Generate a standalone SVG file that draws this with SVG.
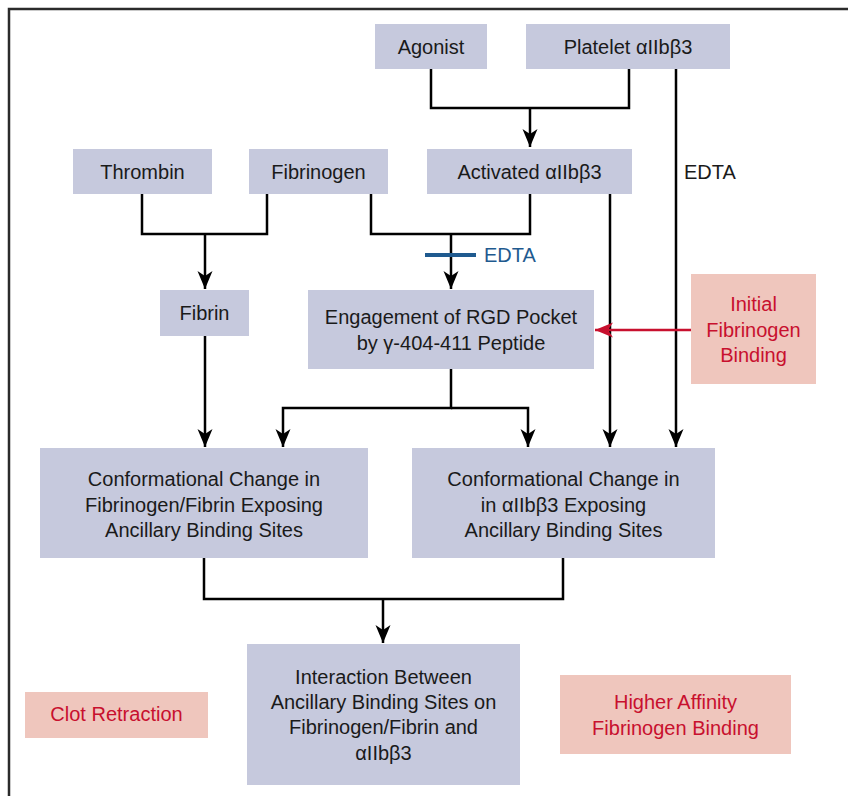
<svg xmlns="http://www.w3.org/2000/svg" width="848" height="796" viewBox="0 0 848 796">
<defs>
<style>
.box{fill:#c6c9dd}
.pink{fill:#efc6bd}
.t{font-family:"Liberation Sans",Arial,sans-serif;font-size:20px;fill:#1a1a1a;text-anchor:middle}
.r{fill:#c8102e}
.b{fill:#1f5a8f;text-anchor:start}
.k{text-anchor:start}
.ln{fill:none;stroke:#000;stroke-width:2.5}
</style>
<marker id="ah" markerUnits="userSpaceOnUse" markerWidth="20" markerHeight="18" viewBox="-19 -9 20 18" refX="0" refY="0" orient="auto">
<path d="M0,0 L-18,-7.5 L-13,0 L-18,7.5 Z" fill="#000"/>
</marker>
<marker id="ahr" markerUnits="userSpaceOnUse" markerWidth="20" markerHeight="18" viewBox="-19 -9 20 18" refX="0" refY="0" orient="auto">
<path d="M0,0 L-18,-7.5 L-13,0 L-18,7.5 Z" fill="#c8102e"/>
</marker>
</defs>
<rect width="848" height="796" fill="#fff"/>
<path d="M9,796 V9 H848" fill="none" stroke="#2b2b2b" stroke-width="2.5"/>

<g id="connectors">
<path class="ln" d="M431,69 V108 H629 V69"/>
<path class="ln" d="M530,108 V147" marker-end="url(#ah)"/>
<path class="ln" d="M676,69 V447" marker-end="url(#ah)"/>
<path class="ln" d="M142,194 V234 H267 V194"/>
<path class="ln" d="M205,234 V289" marker-end="url(#ah)"/>
<path class="ln" d="M371,194 V234 H530 V194"/>
<path class="ln" d="M451,234 V289" marker-end="url(#ah)"/>
<path class="ln" d="M610,194 V447" marker-end="url(#ah)"/>
<path class="ln" d="M205,336 V447" marker-end="url(#ah)"/>
<path class="ln" d="M451,369 V408 H283 V447" marker-end="url(#ah)"/>
<path class="ln" d="M451,408 H528 V447" marker-end="url(#ah)"/>
<path class="ln" d="M204,558 V599 H563 V558"/>
<path class="ln" d="M383,599 V643" marker-end="url(#ah)"/>
<path d="M691,330 H595" fill="none" stroke="#c8102e" stroke-width="2.5" marker-end="url(#ahr)"/>
<line x1="425" y1="255" x2="476" y2="255" stroke="#1f5a8f" stroke-width="4"/>
<text class="t b" x="484" y="262">EDTA</text>
<text class="t k" x="684" y="179">EDTA</text>
</g>

<g id="agonist"><rect class="box" x="375" y="24" width="112" height="45"/><text class="t" x="431" y="53.5">Agonist</text></g>
<g id="platelet"><rect class="box" x="526" y="24" width="204" height="45"/><text class="t" x="628" y="53.5">Platelet αIIbβ3</text></g>
<g id="thrombin"><rect class="box" x="73" y="149" width="139" height="45"/><text class="t" x="142.5" y="178.5">Thrombin</text></g>
<g id="fibrinogen"><rect class="box" x="249" y="149" width="139" height="45"/><text class="t" x="318.5" y="178.5">Fibrinogen</text></g>
<g id="activated"><rect class="box" x="427" y="149" width="205" height="45"/><text class="t" x="529.5" y="178.5">Activated αIIbβ3</text></g>
<g id="fibrin"><rect class="box" x="160" y="290" width="89" height="46"/><text class="t" x="204.5" y="320">Fibrin</text></g>
<g id="engagement"><rect class="box" x="308" y="290" width="286" height="79"/><text class="t" x="451" y="324">Engagement of RGD Pocket</text><text class="t" x="451" y="350">by γ-404-411 Peptide</text></g>
<g id="initial"><rect class="pink" x="691" y="274" width="125" height="110"/><text class="t r" x="753.5" y="311">Initial</text><text class="t r" x="753.5" y="337">Fibrinogen</text><text class="t r" x="753.5" y="362">Binding</text></g>
<g id="conf-fib"><rect class="box" x="40" y="448" width="328" height="110"/><text class="t" x="204" y="486">Conformational Change in</text><text class="t" x="204" y="512">Fibrinogen/Fibrin Exposing</text><text class="t" x="204" y="537">Ancillary Binding Sites</text></g>
<g id="conf-int"><rect class="box" x="412" y="448" width="303" height="110"/><text class="t" x="563.5" y="486">Conformational Change in</text><text class="t" x="563.5" y="512">in αIIbβ3 Exposing</text><text class="t" x="563.5" y="537">Ancillary Binding Sites</text></g>
<g id="interaction"><rect class="box" x="247" y="644" width="273" height="141"/><text class="t" x="383.5" y="684">Interaction Between</text><text class="t" x="383.5" y="709">Ancillary Binding Sites on</text><text class="t" x="383.5" y="734">Fibrinogen/Fibrin and</text><text class="t" x="383.5" y="760">αIIbβ3</text></g>
<g id="clot"><rect class="pink" x="25" y="692" width="183" height="46"/><text class="t r" x="116.5" y="721">Clot Retraction</text></g>
<g id="higher"><rect class="pink" x="560" y="675" width="231" height="79"/><text class="t r" x="675.5" y="709">Higher Affinity</text><text class="t r" x="675.5" y="735">Fibrinogen Binding</text></g>
</svg>
